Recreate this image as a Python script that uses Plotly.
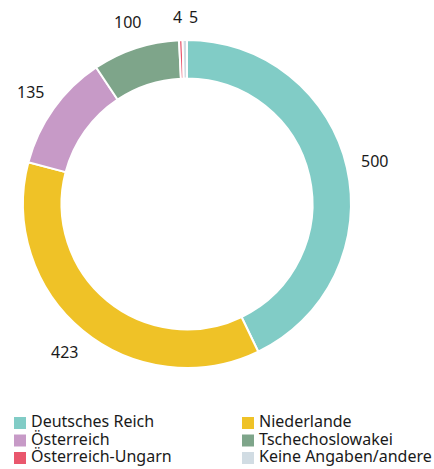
import math
import plotly.graph_objects as go

# Herkunftsländer
laender = ['Deutsches Reich', 'Niederlande', 'Österreich', 'Tschechoslowakei',
           'Österreich-Ungarn', 'Keine Angaben/andere']
anzahl = [500, 423, 135, 100, 4, 5]
farben = ['#81CCC6', '#EFC227', '#C79AC7', '#7EA58A', '#E9576D', '#D1DCE3']

W, H = 434, 469
CX, CY, R = 187, 204, 164  # Mittelpunkt und Außenradius in px

fig = go.Figure()

fig.add_trace(go.Pie(
    labels=laender,
    values=anzahl,
    sort=False,
    direction='clockwise',
    rotation=0,
    hole=0.765,
    marker=dict(colors=farben, line=dict(color='white', width=2)),
    textinfo='none',
    domain=dict(x=[(CX - R) / W, (CX + R) / W], y=[1 - (CY + R) / H, 1 - (CY - R) / H]),
    hoverinfo='label+value+percent',
    showlegend=False,
))

# Wertbeschriftungen außerhalb des Rings, auf der Mitte jedes Segments
total = sum(anzahl)
cum = 0
small = [i for i, v in enumerate(anzahl) if v / total < 0.01]
for i, v in enumerate(anzahl):
    mid = (cum + v / 2) / total * 2 * math.pi
    cum += v
    r_lab = R + 28
    px = CX + r_lab * math.sin(mid)
    py = CY - r_lab * math.cos(mid)
    xshift = 0
    if i in small:
        k = small.index(i)
        xshift = (k - (len(small) - 1) / 2) * 16 - 2
        px = CX
        py = CY - R - 23
    fig.add_annotation(
        x=px / W, y=1 - py / H, xref='paper', yref='paper',
        text=str(v), showarrow=False, xshift=xshift,
        xanchor='center', yanchor='middle',
        font=dict(size=16, color='#1a1a1a'),
    )

# Legende: zwei Spalten, Einträge zeilenweise
leg_x = [20 + (i % 2) * 228 for i in range(len(laender))]
leg_y = [423 + (i // 2) * 17.5 for i in range(len(laender))]
fig.add_trace(go.Scatter(
    x=leg_x, y=leg_y,
    mode='markers',
    marker=dict(symbol='square', size=12, color=farben, line=dict(width=0)),
    hoverinfo='skip',
    showlegend=False,
    cliponaxis=False,
))
fig.add_trace(go.Scatter(
    x=[x + 11 for x in leg_x], y=leg_y,
    mode='text',
    text=laender,
    textposition='middle right',
    textfont=dict(size=16, color='#1a1a1a'),
    hoverinfo='skip',
    showlegend=False,
    cliponaxis=False,
))

fig.update_layout(
    width=W,
    height=H,
    margin=dict(l=0, r=0, t=0, b=0),
    paper_bgcolor='white',
    plot_bgcolor='rgba(0,0,0,0)',
    font=dict(family='Noto Sans, sans-serif', size=15, color='#1a1a1a'),
    showlegend=False,
    xaxis=dict(range=[0, W], visible=False, fixedrange=True),
    yaxis=dict(range=[H, 0], visible=False, fixedrange=True),
)

fig.write_html("out.html", config={'displayModeBar': False},
               post_script="document.body.style.margin='0';")
